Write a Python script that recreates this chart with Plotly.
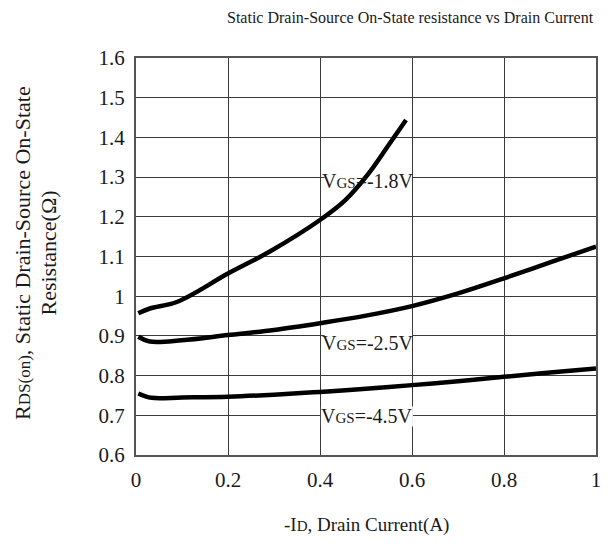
import plotly.graph_objects as go

x_18 = [0.005, 0.03, 0.09, 0.2, 0.29, 0.4, 0.455, 0.505, 0.547, 0.587]
y_18 = [0.957, 0.969, 0.986, 1.057, 1.112, 1.192, 1.242, 1.308, 1.377, 1.444]

x_25 = [0.005, 0.03, 0.1, 0.2, 0.3, 0.4, 0.5, 0.6, 0.7, 0.8, 0.9, 1.0]
y_25 = [0.898, 0.886, 0.889, 0.902, 0.915, 0.932, 0.951, 0.975, 1.007, 1.045, 1.085, 1.125]

x_45 = [0.005, 0.034, 0.1, 0.2, 0.3, 0.4, 0.5, 0.6, 0.7, 0.8, 0.9, 1.0]
y_45 = [0.755, 0.744, 0.745, 0.747, 0.752, 0.759, 0.767, 0.776, 0.786, 0.797, 0.808, 0.818]

labels = ["V<span style='font-size:15px'>GS</span>=-1.8V",
          "V<span style='font-size:15px'>GS</span>=-2.5V",
          "V<span style='font-size:15px'>GS</span>=-4.5V"]
label_x = [0.505, 0.505, 0.502]
label_y = [1.29, 0.881, 0.697]
label_half_w = [0.095, 0.095, 0.1]

x_ticks = [0, 0.2, 0.4, 0.6, 0.8, 1]
x_ticktext = ["0", "0.2", "0.4", "0.6", "0.8", "1"]
y_ticks = [0.6, 0.7, 0.8, 0.9, 1.0, 1.1, 1.2, 1.3, 1.4, 1.5, 1.6]
y_ticktext = ["0.6", "0.7", "0.8", "0.9", "1", "1.1", "1.2", "1.3", "1.4", "1.5", "1.6"]

FONT = "Liberation Serif"
TXT = "#1a1a1a"

fig = go.Figure()
for xs, ys in [(x_18, y_18), (x_25, y_25), (x_45, y_45)]:
    fig.add_trace(go.Scatter(x=xs, y=ys, mode="lines", line=dict(color="black", width=4.5, shape="spline"),
                             showlegend=False, hoverinfo="skip"))

for t, lx, ly, hw in zip(labels, label_x, label_y, label_half_w):
    fig.add_shape(type="rect", x0=lx - hw, x1=lx + hw, y0=ly - 0.025, y1=ly + 0.025,
                  fillcolor="white", line=dict(width=0), layer="between")
    fig.add_annotation(x=lx, y=ly, text=t, showarrow=False,
                       font=dict(family=FONT, size=20, color=TXT))

fig.add_annotation(xref="paper", yref="paper", x=0.597, y=1.102, xanchor="center", yanchor="middle",
                   text="Static Drain-Source On-State resistance vs Drain Current",
                   showarrow=False, font=dict(family=FONT, size=16, color=TXT))
fig.add_annotation(xref="paper", yref="paper", x=-0.2457, y=0.509, xanchor="center", yanchor="middle",
                   text="R<span style='font-size:17px'>DS(on)</span>, Static Drain-Source On-State",
                   textangle=-90, showarrow=False, font=dict(family=FONT, size=22, color=TXT))
fig.add_annotation(xref="paper", yref="paper", x=-0.19, y=0.509, xanchor="center", yanchor="middle",
                   text="Resistance(Ω)",
                   textangle=-90, showarrow=False, font=dict(family=FONT, size=22, color=TXT))
fig.add_annotation(xref="paper", yref="paper", x=0.5, y=-0.176, xanchor="center", yanchor="middle",
                   text="-I<span style='font-size:15px'>D</span>, Drain Current(A)",
                   showarrow=False, font=dict(family=FONT, size=19, color=TXT))

fig.update_xaxes(range=[0, 1], tickvals=x_ticks, ticktext=x_ticktext,
                 showgrid=True, gridcolor="#3a3a3a", gridwidth=1, zeroline=False,
                 showline=True, linecolor="#555", linewidth=2, mirror=True, ticks="", ticklabelstandoff=5,
                 tickfont=dict(family=FONT, size=21, color=TXT))
fig.update_yaxes(range=[0.6, 1.6], tickvals=y_ticks, ticktext=y_ticktext,
                 showgrid=True, gridcolor="#3a3a3a", gridwidth=1, zeroline=False,
                 showline=True, linecolor="#555", linewidth=2, mirror=True, ticks="", ticklabelstandoff=5,
                 tickfont=dict(family=FONT, size=21, color=TXT))
fig.update_layout(width=613, height=547, margin=dict(l=136, r=13, t=58, b=92),
                  plot_bgcolor="white", paper_bgcolor="white")
fig.write_html("out.html")
